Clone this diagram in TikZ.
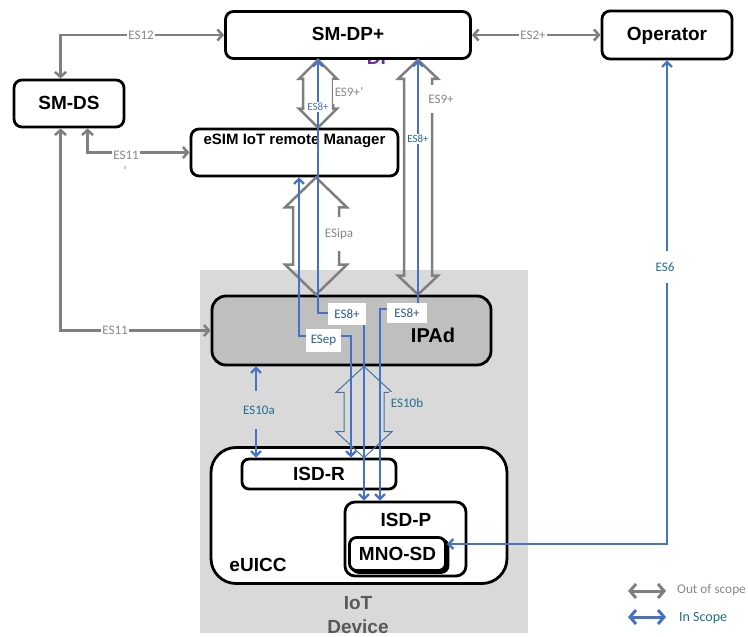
\documentclass[tikz,border=0pt]{standalone}
\usepackage{fontspec}
\setmainfont{Liberation Sans}
\newfontfamily\lblfont{Carlito}
\usetikzlibrary{arrows.meta,calc}
\definecolor{lgray}{RGB}{127,127,127}
\definecolor{ltxt}{RGB}{135,135,135}
\definecolor{iblue}{RGB}{68,114,196}
\definecolor{tealtxt}{RGB}{31,110,140}
\definecolor{boxblue}{RGB}{40,90,150}
\definecolor{bgray}{RGB}{217,217,217}
\definecolor{ipgray}{RGB}{191,191,191}
\definecolor{oblue}{RGB}{65,113,156}
\definecolor{devtxt}{RGB}{89,89,89}
\definecolor{dppurple}{RGB}{112,48,160}
\newcommand\hollowarr[6]{%
  \draw[#1] let \p1=(#2), \p2=(#3) in
    (\x1,\y1) -- (\x1+#5pt,\y1-#6pt) -- (\x1+#4pt,\y1-#6pt) -- (\x1+#4pt,\y2+#6pt)
    -- (\x1+#5pt,\y2+#6pt) -- (\x1,\y2) -- (\x1-#5pt,\y2+#6pt) -- (\x1-#4pt,\y2+#6pt)
    -- (\x1-#4pt,\y1-#6pt) -- (\x1-#5pt,\y1-#6pt) -- cycle;}
\begin{document}
\begin{tikzpicture}[x=1pt,y=-1pt,
  entbox/.style={draw=black,line width=2.8pt,rounded corners=8pt,fill=white,inner sep=0pt,
    text height=14pt,text depth=2pt,font=\fontsize{19}{19}\selectfont\bfseries},
  oosline/.style={draw=lgray,line width=2.5pt,<->,>={Straight Barb[length=5pt,width=11pt]}},
  insline/.style={draw=iblue,line width=2.2pt,<->,>={Straight Barb[length=5pt,width=10pt]}},
  blockgray/.style={draw=lgray,line width=2.5pt,line join=miter},
  blockblue/.style={draw=oblue,line width=1pt,line join=miter},
  glbl/.style={fill=white,text=ltxt,font=\lblfont\fontsize{13}{13}\selectfont,inner sep=1.5pt},
  tlbl/.style={fill=bgray,text=tealtxt,font=\lblfont\fontsize{13}{13}\selectfont,inner sep=1.5pt},
  boxlbl/.style={fill=white,text=boxblue,font=\lblfont\fontsize{13}{13}\selectfont,inner sep=0pt},
  smlbl/.style={fill=white,font=\lblfont\fontsize{11}{11}\selectfont,inner sep=1pt}
]
\useasboundingbox (0,0) rectangle (748,637);
% IoT device background
\node[fill=bgray,minimum width=328,minimum height=363,inner sep=0pt] (iot) at (364,451.5) {};
\node[text=devtxt,font=\fontsize{19}{24}\selectfont\bfseries,align=center] (iottxt) at (358,615) {IoT\\Device};
% partially hidden purple text
\node[text=dppurple,font=\fontsize{19}{19}\selectfont\bfseries,inner sep=0pt] (dptxt) at (380,58) {DP};
% entities
\node[entbox,minimum width=245,minimum height=47] (dp) at (348,35) {SM-DP+};
\node[entbox,minimum width=130,minimum height=48] (op) at (667,35) {Operator};
\node[entbox,minimum width=110,minimum height=47] (ds) at (69,103.5) {SM-DS};
\node[entbox,minimum width=207,minimum height=47] (mgr) at (294.5,152.5) {};
\node[font=\fontsize{15}{15}\selectfont\bfseries] (mgrtxt) at (294.5,141) {eSIM IoT remote Manager};
\node[entbox,fill=ipgray,rounded corners=14pt,minimum width=279,minimum height=69] (ipad) at (351.5,330.5) {};
\node[font=\fontsize{20}{20}\selectfont\bfseries] (ipadtxt) at (433,335) {IPAd};
\node[entbox,rounded corners=25pt,minimum width=296,minimum height=136] (euicc) at (359,515.5) {};
\node[font=\fontsize{19}{19}\selectfont\bfseries] (euicctxt) at (258,565) {eUICC};
\node[entbox,rounded corners=7pt,minimum width=154,minimum height=30] (isdr) at (319,474) {ISD-R};
\node[entbox,rounded corners=10pt,minimum width=121,minimum height=74] (isdp) at (405.5,539) {};
\node[font=\fontsize{19}{19}\selectfont\bfseries] (isdptxt) at (406,520) {ISD-P};
\node[draw=black,fill=black,line width=2.8pt,rounded corners=7pt,minimum width=96,minimum height=33,inner sep=0pt] (mnosh) at (400,556) {};
\node[entbox,rounded corners=7pt,minimum width=96,minimum height=33] (mno) at (397.5,554) {MNO-SD};
% helper coordinates
\coordinate (e1) at (318,0);
\coordinate (f1) at (316,0);
\coordinate (a1) at (318,313);
\coordinate (a2) at (364,313);
\coordinate (b1) at (418,309);
\coordinate (b2) at (380,309);
\coordinate (c1) at (299,336);
\coordinate (c2) at (351,336);
\coordinate (d1) at (256,0);
% out of scope connectors
\draw[oosline] (dp.west) -| ($(ds.north)+(-8.5,0)$);
\draw[oosline] (mgr.west) -| ($(ds.south)+(18.5,0)$);
\draw[oosline] (ipad.west) -| ($(ds.south)+(-8.5,0)$);
\draw[oosline] (dp.east) -- (op.west);
\hollowarr{blockgray}{dp.south -| e1}{mgr.north -| e1}{15}{19}{19}
\hollowarr{blockgray}{dp.south -| b1}{ipad.north -| b1}{14}{20}{19}
\hollowarr{blockgray}{mgr.south -| f1}{ipad.north -| f1}{23}{31}{30}
\hollowarr{blockblue}{ipad.south -| a2}{isdr.north -| a2}{20}{28}{26}
% in scope connectors
\draw[insline] (dp.south -| a1) -- (a1) -- (a2) -- (a2 |- isdp.north);
\draw[insline] (dp.south -| b1) -- (b1) -- (b2) -- (b2 |- isdp.north);
\draw[insline] (mgr.south -| c1) -- (c1) -- (c2) -- (c2 |- isdr.north);
\draw[insline] (ipad.south -| d1) -- (isdr.north -| d1);
\draw[insline] ($(mno.east)+(0,-10)$) -| (op.south);
% labels
\node[glbl] (l12) at (141,35) {ES12};
\node[glbl] (l11a) at (126,155) {ES11};
\node[text=ltxt,font=\lblfont\fontsize{13}{13}\selectfont,inner sep=0pt] (l11ap) at (125,171) {’};
\node[glbl] (l11b) at (115,330) {ES11};
\node[glbl] (l2) at (533,35) {ES2+};
\node[glbl,minimum height=24] (l9p) at (349,92) {ES9+’};
\node[glbl,minimum height=28] (l9) at (441,99) {ES9+};
\node[glbl,minimum height=34] (lipa) at (339,234) {ESipa};
\node[smlbl,text=iblue] (l8s1) at (318,107) {ES8+};
\node[smlbl,text=tealtxt] (l8s2) at (418,139) {ES8+};
\node[boxlbl,minimum width=38,minimum height=22] (l8b1) at (347,314) {ES8+};
\node[boxlbl,minimum width=40,minimum height=20] (l8b2) at (407,313) {ES8+};
\node[boxlbl,minimum width=35,minimum height=23] (lsep) at (323.5,340.5) {ESep};
\node[tlbl,minimum height=38] (l10a) at (259,410) {ES10a};
\node[tlbl,minimum height=22] (l10b) at (407,403) {ES10b};
\node[glbl,text=tealtxt,minimum height=32] (l6) at (665,267) {ES6};
% legend
\coordinate (g1) at (628,591);
\coordinate (g2) at (666,591);
\coordinate (h1) at (628,617);
\coordinate (h2) at (666,617);
\draw[oosline,line width=3pt,>={Straight Barb[length=6pt,width=14pt]}] (g1) -- (g2);
\draw[insline,line width=3pt,>={Straight Barb[length=6pt,width=14pt]}] (h1) -- (h2);
\node[anchor=west,text=ltxt,font=\lblfont\fontsize{13.3}{13.3}\selectfont,inner sep=0pt] (lg1) at (677,590) {Out of scope};
\node[anchor=west,text=tealtxt,font=\lblfont\fontsize{14}{14}\selectfont,inner sep=0pt] (lg2) at (679,618) {In Scope};
\end{tikzpicture}
\end{document}
